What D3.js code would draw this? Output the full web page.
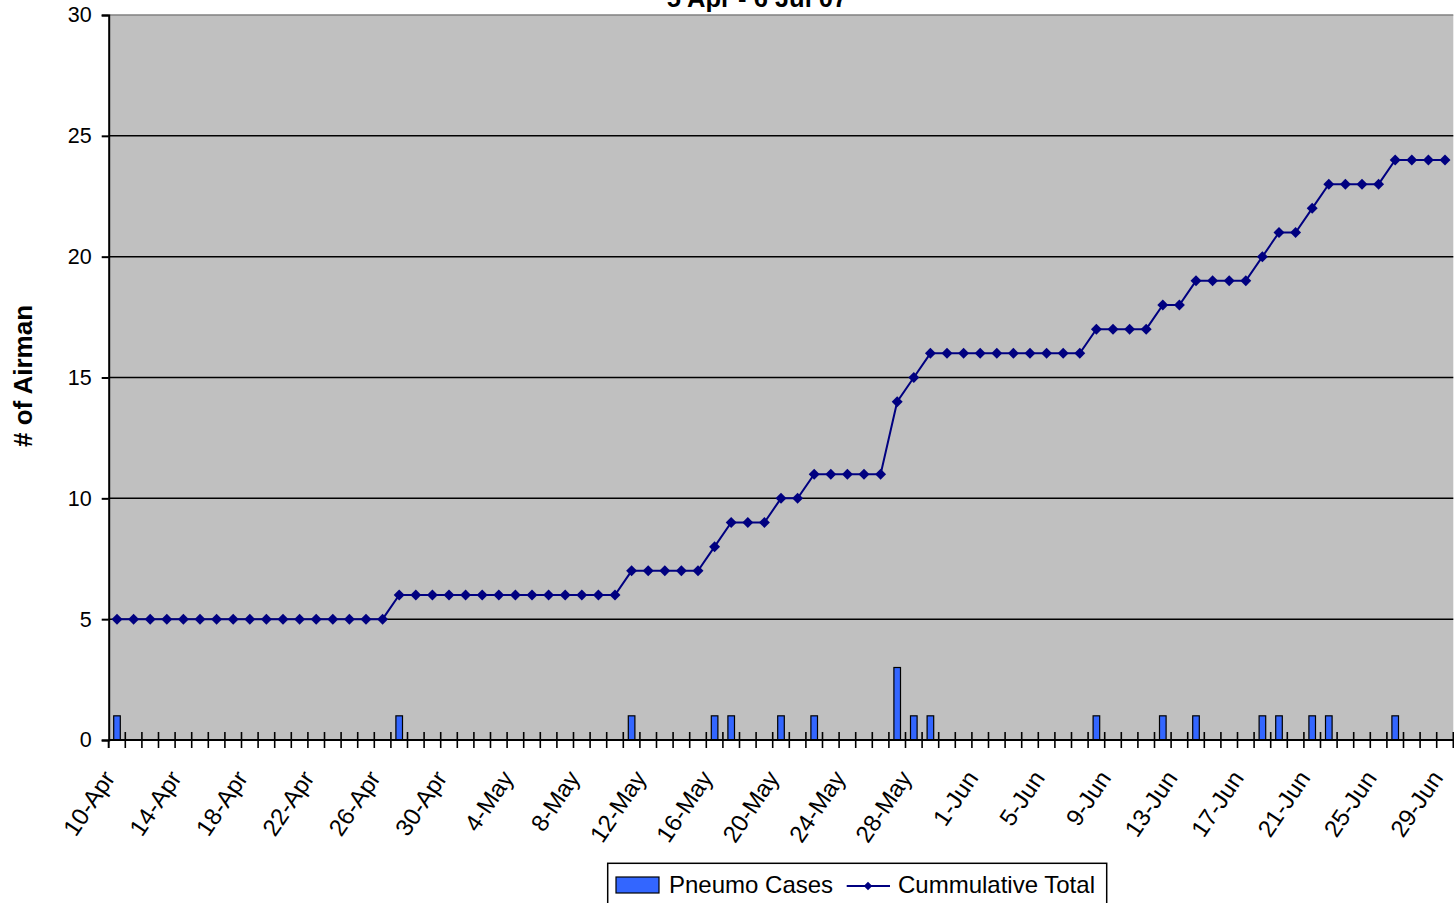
<!DOCTYPE html>
<html>
<head>
<meta charset="utf-8">
<script src="https://cdn.jsdelivr.net/npm/d3@7"></script>
<style>
  html, body { margin: 0; padding: 0; background: #fff; }
  svg { display: block; font-family: "Liberation Sans", Arial, sans-serif; }
</style>
</head>
<body>
<svg id="chart" width="1454" height="903"></svg>
<script>
// Daily dates on the category axis
const categories = [
  "10-Apr","11-Apr","12-Apr","13-Apr","14-Apr","15-Apr","16-Apr","17-Apr","18-Apr","19-Apr",
  "20-Apr","21-Apr","22-Apr","23-Apr","24-Apr","25-Apr","26-Apr","27-Apr","28-Apr","29-Apr",
  "30-Apr","1-May","2-May","3-May","4-May","5-May","6-May","7-May","8-May","9-May",
  "10-May","11-May","12-May","13-May","14-May","15-May","16-May","17-May","18-May","19-May",
  "20-May","21-May","22-May","23-May","24-May","25-May","26-May","27-May","28-May","29-May",
  "30-May","31-May","1-Jun","2-Jun","3-Jun","4-Jun","5-Jun","6-Jun","7-Jun","8-Jun",
  "9-Jun","10-Jun","11-Jun","12-Jun","13-Jun","14-Jun","15-Jun","16-Jun","17-Jun","18-Jun",
  "19-Jun","20-Jun","21-Jun","22-Jun","23-Jun","24-Jun","25-Jun","26-Jun","27-Jun","28-Jun",
  "29-Jun"
];

// New pneumonia cases per day
const pneumoCases = [
  1,0,0,0,0,0,0,0,0,0,
  0,0,0,0,0,0,0,1,0,0,
  0,0,0,0,0,0,0,0,0,0,
  0,1,0,0,0,0,1,1,0,0,
  1,0,1,0,0,0,0,3,1,1,
  0,0,0,0,0,0,0,0,0,1,
  0,0,0,1,0,1,0,0,0,1,
  1,0,1,1,0,0,0,1,0,0,
  0
];

// Running total of airmen affected
const cumulativeTotal = [
  5,5,5,5,5,5,5,5,5,5,
  5,5,5,5,5,5,5,6,6,6,
  6,6,6,6,6,6,6,6,6,6,
  6,7,7,7,7,7,8,9,9,9,
  10,10,11,11,11,11,11,14,15,16,
  16,16,16,16,16,16,16,16,16,17,
  17,17,17,18,18,19,19,19,19,20,
  21,21,22,23,23,23,23,24,24,24,
  24
];

// Labelled dates (every fourth day)
const tickLabels = [
  "10-Apr","14-Apr","18-Apr","22-Apr","26-Apr","30-Apr","4-May","8-May","12-May","16-May",
  "20-May","24-May","28-May","1-Jun","5-Jun","9-Jun","13-Jun","17-Jun","21-Jun","25-Jun","29-Jun"
];

const yTicks = [0, 5, 10, 15, 20, 25, 30];

const svg = d3.select("#chart");
const plotLeft = 108.7, plotRight = 1453.3, plotTop = 15, plotBottom = 740;

const x = d3.scaleBand().domain(categories).range([plotLeft, plotRight]).paddingInner(0).paddingOuter(0);
const y = d3.scaleLinear().domain([0, 30]).range([plotBottom, plotTop]);
const bw = x.bandwidth();

// Title (second line of the heading)
svg.append("text")
  .attr("x", 757).attr("y", 7)
  .attr("text-anchor", "middle")
  .attr("font-weight", "bold")
  .attr("font-size", 25.5)
  .text("5 Apr - 6 Jul 07");

// Plot area
svg.append("rect")
  .attr("x", plotLeft).attr("y", plotTop)
  .attr("width", plotRight - plotLeft).attr("height", plotBottom - plotTop)
  .attr("fill", "#c0c0c0");

svg.append("line")
  .attr("x1", plotLeft).attr("x2", plotRight)
  .attr("y1", y(30)).attr("y2", y(30))
  .attr("stroke", "#808080").attr("stroke-width", 1.5);

// Horizontal gridlines
svg.append("g")
  .selectAll("line")
  .data(yTicks.filter(d => d > 0 && d < 30))
  .join("line")
  .attr("x1", plotLeft).attr("x2", plotRight)
  .attr("y1", d => y(d)).attr("y2", d => y(d))
  .attr("stroke", "#000").attr("stroke-width", 1.5);

// Bars: daily cases
const barW = 6.6;
svg.append("g")
  .selectAll("rect")
  .data(categories.map((c, i) => ({ c, v: pneumoCases[i] })).filter(d => d.v > 0))
  .join("rect")
  .attr("x", d => x(d.c) + bw / 2 - barW / 2)
  .attr("y", d => y(d.v))
  .attr("width", barW)
  .attr("height", d => y(0) - y(d.v))
  .attr("fill", "#3366ff")
  .attr("stroke", "#000")
  .attr("stroke-width", 1.2);

// Cumulative line with diamond markers
const pts = categories.map((c, i) => ({ c, v: cumulativeTotal[i] }));
svg.append("path")
  .datum(pts)
  .attr("fill", "none")
  .attr("stroke", "#000080")
  .attr("stroke-width", 2)
  .attr("d", d3.line().x(d => x(d.c) + bw / 2).y(d => y(d.v)));

const diamond = d3.symbol().type(d3.symbolSquare).size(60);
svg.append("g")
  .selectAll("path")
  .data(pts)
  .join("path")
  .attr("d", diamond)
  .attr("transform", d => `translate(${x(d.c) + bw / 2},${y(d.v)}) rotate(45)`)
  .attr("fill", "#000080");

// Y axis
const yAxis = d3.axisLeft(y).tickValues(yTicks).tickSize(7).tickPadding(10).tickFormat(d3.format("d"));
const gy = svg.append("g").attr("transform", `translate(${plotLeft},0)`).call(yAxis);
gy.select(".domain").attr("stroke", "#000").attr("stroke-width", 2);
gy.selectAll(".tick line").attr("stroke", "#000").attr("stroke-width", 2);
gy.selectAll(".tick text").attr("font-size", 21.5).attr("fill", "#000")
  .attr("font-family", "'Liberation Sans', Arial, sans-serif");

// X axis: baseline and crossing ticks at every day boundary
svg.append("line")
  .attr("x1", plotLeft).attr("x2", plotRight)
  .attr("y1", plotBottom).attr("y2", plotBottom)
  .attr("stroke", "#000").attr("stroke-width", 2);

const boundaries = categories.map(c => x(c)).concat([plotRight]);
svg.append("g")
  .selectAll("line")
  .data(boundaries.slice(1))
  .join("line")
  .attr("x1", d => d).attr("x2", d => d)
  .attr("y1", plotBottom - 8).attr("y2", plotBottom + 8)
  .attr("stroke", "#000").attr("stroke-width", 1.6);

svg.append("line")
  .attr("x1", plotLeft).attr("x2", plotLeft)
  .attr("y1", plotBottom).attr("y2", plotBottom + 8)
  .attr("stroke", "#000").attr("stroke-width", 2);

// Rotated date labels
svg.append("g")
  .selectAll("text")
  .data(tickLabels)
  .join("text")
  .attr("transform", d => `translate(${x(d) + bw / 2 - 1},${plotBottom + 38}) rotate(-56)`)
  .attr("text-anchor", "end")
  .attr("font-size", 24)
  .attr("fill", "#000")
  .text(d => d);

// Y axis title
svg.append("text")
  .attr("transform", "translate(32,376) rotate(-90)")
  .attr("text-anchor", "middle")
  .attr("font-weight", "bold")
  .attr("font-size", 26)
  .text("# of Airman");

// Legend
const lg = svg.append("g");
lg.append("rect")
  .attr("x", 607.7).attr("y", 863.3)
  .attr("width", 499).attr("height", 60)
  .attr("fill", "#fff").attr("stroke", "#000").attr("stroke-width", 1.5);
lg.append("rect")
  .attr("x", 616).attr("y", 877)
  .attr("width", 43).attr("height", 16)
  .attr("fill", "#3366ff").attr("stroke", "#000").attr("stroke-width", 1.2);
lg.append("text")
  .attr("x", 669).attr("y", 893)
  .attr("font-size", 24)
  .text("Pneumo Cases");
lg.append("line")
  .attr("x1", 846.7).attr("x2", 890)
  .attr("y1", 886).attr("y2", 886)
  .attr("stroke", "#000080").attr("stroke-width", 2);
lg.append("path")
  .attr("d", d3.symbol().type(d3.symbolSquare).size(36)())
  .attr("transform", "translate(868,886) rotate(45)")
  .attr("fill", "#000080");
lg.append("text")
  .attr("x", 898).attr("y", 893)
  .attr("font-size", 24)
  .text("Cummulative Total");
</script>
</body>
</html>
